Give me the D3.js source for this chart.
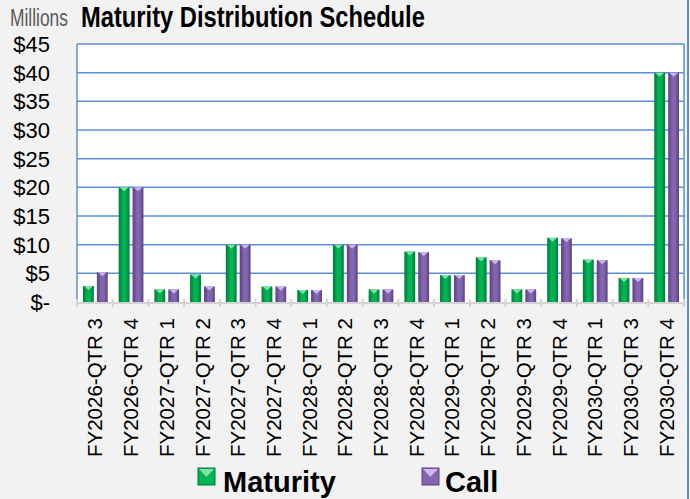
<!DOCTYPE html>
<html>
<head>
<meta charset="utf-8">
<script src="https://cdn.jsdelivr.net/npm/d3@7"></script>
<style>
  html, body { margin: 0; padding: 0; background: #f2f2f2; }
  svg { display: block; font-family: Arial, "Liberation Sans", sans-serif; }
</style>
</head>
<body>
<div id="chart"></div>
<script>
// chart data ($ millions)
var categories = [
    "FY2026-QTR 3", "FY2026-QTR 4", "FY2027-QTR 1", "FY2027-QTR 2", "FY2027-QTR 3",
    "FY2027-QTR 4", "FY2028-QTR 1", "FY2028-QTR 2", "FY2028-QTR 3", "FY2028-QTR 4",
    "FY2029-QTR 1", "FY2029-QTR 2", "FY2029-QTR 3", "FY2029-QTR 4", "FY2030-QTR 1",
    "FY2030-QTR 3", "FY2030-QTR 4"
];
var maturity = [2.8, 20, 2.2, 4.8, 10, 2.7, 2.1, 10, 2.2, 8.8, 4.7, 7.8, 2.2, 11.2, 7.4, 4.2, 40];
var call     = [5.2, 20, 2.2, 2.7, 10, 2.7, 2.1, 10, 2.2, 8.7, 4.7, 7.3, 2.2, 11.1, 7.3, 4.2, 40];
var seriesNames = ["Maturity", "Call"];
var yTicks = [0, 5, 10, 15, 20, 25, 30, 35, 40, 45];

var width = 690, height = 499;
var plotLeft = 77, plotRight = 684, plotTop = 44, plotBottom = 302;

var svg = d3.select("#chart").append("svg")
    .attr("width", width)
    .attr("height", height);

svg.append("rect").attr("width", width).attr("height", height).attr("fill", "#f2f2f2");

// gradients for the cylinder-ish bars
var defs = svg.append("defs");
var palette = {
    Maturity: { edge: "#00793a", mid: "#00b452", cap: "#7fe3a8" },
    Call:     { edge: "#5a4080", mid: "#8466b0", cap: "#cdb6ec" }
};
seriesNames.forEach(function(name) {
    var g = defs.append("linearGradient").attr("id", "grad-" + name)
        .attr("x1", "0%").attr("x2", "100%").attr("y1", "0%").attr("y2", "0%");
    g.append("stop").attr("offset", "0%").attr("stop-color", palette[name].edge);
    g.append("stop").attr("offset", "40%").attr("stop-color", palette[name].mid);
    g.append("stop").attr("offset", "65%").attr("stop-color", palette[name].mid);
    g.append("stop").attr("offset", "100%").attr("stop-color", palette[name].edge);
});

var x = d3.scaleBand().domain(categories).range([plotLeft, plotRight]).padding(0);
var xSub = d3.scaleBand().domain(seriesNames).range([6, x.bandwidth() - 5]).paddingInner(0.22);
var y = d3.scaleLinear().domain([0, 45]).range([plotBottom, plotTop]);

// plot area
svg.append("rect")
    .attr("x", plotLeft).attr("y", plotTop)
    .attr("width", plotRight - plotLeft).attr("height", plotBottom - plotTop)
    .attr("fill", "#ffffff");

// gridlines
svg.append("g").selectAll("line")
    .data(yTicks.filter(function(d) { return d > 0; }))
    .join("line")
    .attr("x1", plotLeft).attr("x2", plotRight)
    .attr("y1", function(d) { return y(d); })
    .attr("y2", function(d) { return y(d); })
    .attr("stroke", "#5b8fd9")
    .attr("stroke-width", 1.5);

// left / right plot borders
svg.append("line").attr("x1", plotLeft).attr("x2", plotLeft).attr("y1", plotTop).attr("y2", plotBottom)
    .attr("stroke", "#5b8fd9").attr("stroke-width", 1.5);
svg.append("line").attr("x1", plotRight).attr("x2", plotRight).attr("y1", plotTop).attr("y2", plotBottom)
    .attr("stroke", "#5b8fd9").attr("stroke-width", 1.5);

// outer frame line on the right edge
svg.append("line").attr("x1", 688).attr("x2", 688).attr("y1", 0).attr("y2", height)
    .attr("stroke", "#5b8fd9").attr("stroke-width", 2);

// category axis with tick marks between categories
svg.append("line").attr("x1", plotLeft).attr("x2", plotRight).attr("y1", plotBottom + 1).attr("y2", plotBottom + 1)
    .attr("stroke", "#d4d4d4").attr("stroke-width", 2);
svg.append("g").selectAll("line")
    .data(d3.range(categories.length + 1))
    .join("line")
    .attr("x1", function(i) { return plotLeft + i * x.step(); })
    .attr("x2", function(i) { return plotLeft + i * x.step(); })
    .attr("y1", plotBottom - 3)
    .attr("y2", plotBottom + 5)
    .attr("stroke", "#d4d4d4")
    .attr("stroke-width", 2);

// bars
var rows = categories.map(function(c, i) {
    return { cat: c, values: [ { s: "Maturity", v: maturity[i] }, { s: "Call", v: call[i] } ] };
});

var groups = svg.append("g").selectAll("g")
    .data(rows)
    .join("g")
    .attr("transform", function(d) { return "translate(" + x(d.cat) + ",0)"; });

var bars = groups.selectAll("g")
    .data(function(d) { return d.values; })
    .join("g");

bars.append("rect")
    .attr("x", function(d) { return xSub(d.s); })
    .attr("y", function(d) { return y(d.v); })
    .attr("width", xSub.bandwidth())
    .attr("height", function(d) { return y(0) - y(d.v); })
    .attr("fill", function(d) { return "url(#grad-" + d.s + ")"; });

// small pyramid cap on top of each bar
bars.append("path")
    .attr("d", function(d) {
        var x0 = xSub(d.s), w = xSub.bandwidth(), yt = y(d.v);
        return "M" + (x0 + 1) + "," + yt + "L" + (x0 + w - 1) + "," + yt + "L" + (x0 + w / 2) + "," + (yt + 4) + "Z";
    })
    .attr("fill", function(d) { return palette[d.s].cap; });

// y labels
svg.append("g").selectAll("text")
    .data(yTicks)
    .join("text")
    .attr("x", 50)
    .attr("y", function(d) { return y(d); })
    .attr("dy", "0.36em")
    .attr("text-anchor", "end")
    .style("font-size", "22px")
    .style("fill", "#000")
    .text(function(d) { return d === 0 ? "$-" : "$" + d; });

// x labels, rotated
svg.append("g").selectAll("text")
    .data(categories)
    .join("text")
    .attr("transform", function(d) {
        return "translate(" + (x(d) + x.bandwidth() / 2) + ",318) rotate(-90)";
    })
    .attr("dy", "0.36em")
    .attr("text-anchor", "end")
    .attr("textLength", 139)
    .attr("lengthAdjust", "spacingAndGlyphs")
    .style("font-size", "21px")
    .style("fill", "#000")
    .text(function(d) { return d; });

// title texts are narrower than the font, so squeeze them horizontally
function squeezedText(tx, ty, wanted, size, weight, color, label) {
    var t = svg.append("text")
        .style("font-size", size + "px")
        .style("font-weight", weight)
        .style("fill", color)
        .text(label);
    var natural = t.node().getComputedTextLength();
    t.attr("transform", "translate(" + tx + "," + ty + ") scale(" + (wanted / natural) + ",1)");
    return t;
}

squeezedText(10, 26, 58, 24, "normal", "#595959", "Millions");
squeezedText(81, 27, 344, 29, "bold", "#000", "Maturity Distribution Schedule");

// legend
var legendPos = [ { s: "Maturity", x: 198, tx: 223 }, { s: "Call", x: 422, tx: 445 } ];
var legend = svg.append("g").selectAll("g")
    .data(legendPos)
    .join("g");

legend.append("rect")
    .attr("x", function(d) { return d.x; })
    .attr("y", 468)
    .attr("width", 17)
    .attr("height", 17)
    .attr("fill", function(d) { return palette[d.s].mid; })
    .attr("stroke", function(d) { return palette[d.s].edge; })
    .attr("stroke-width", 1);

legend.append("path")
    .attr("d", function(d) {
        return "M" + (d.x + 1) + ",469L" + (d.x + 16) + ",469L" + (d.x + 8.5) + ",477Z";
    })
    .attr("fill", function(d) { return palette[d.s].cap; });

legend.append("text")
    .attr("x", function(d) { return d.tx; })
    .attr("y", 492)
    .style("font-size", "29px")
    .style("font-weight", "bold")
    .style("fill", "#000")
    .text(function(d) { return d.s; });
</script>
</body>
</html>
